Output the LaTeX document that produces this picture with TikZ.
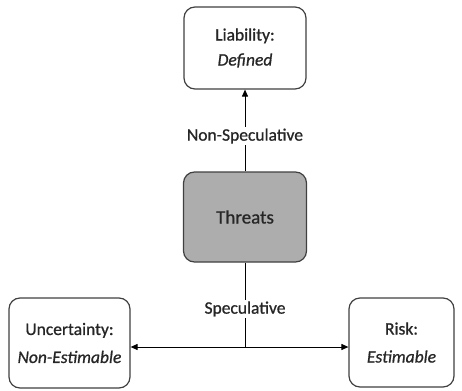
\documentclass[tikz,border=0pt]{standalone}
\usepackage{fontspec}
\setmainfont{Carlito}[FakeBold=0.8,AutoFakeBold=0.8]
\usetikzlibrary{arrows.meta}
\begin{document}
\begin{tikzpicture}[x=1pt,y=-1pt,
  box/.style={draw=black!75, line width=1.2pt, rounded corners=11pt, fill=white, align=center, font=\fontsize{17.5}{25}\selectfont\color{black!85}, inner sep=0pt},
  lbl/.style={fill=white, font=\fontsize{17.5}{18}\selectfont\color{black!85}, inner sep=2pt},
  conn/.style={draw=black, line width=1pt},
  tip/.style={-{Triangle[length=7pt,width=6pt]}}
]
\useasboundingbox (0,0) rectangle (462,390);
\node[box, minimum width=122pt, minimum height=82pt] (liab) at (245,48) {Liability:\\\textit{Defined}};
\node[box, fill=black!32, minimum width=123pt, minimum height=90pt, font=\fontsize{19}{22}\selectfont\color{black!85}] (thr) at (245,217) {Threats};
\node[box, minimum width=121pt, minimum height=90pt, font=\fontsize{17.5}{28}\selectfont\color{black!85}] (unc) at (69.5,343) {Uncertainty:\\\textit{Non-Estimable}};
\node[box, minimum width=105pt, minimum height=89pt, font=\fontsize{17.5}{28}\selectfont\color{black!85}] (risk) at (401.5,342.5) {Risk:\\\textit{Estimable}};
\coordinate (j) at (245,347);
\draw[conn,tip] (thr.north) -- (liab.south);
\node[lbl] (ns) at (245,136) {Non-Speculative};
\draw[conn] (thr.south) -- (j);
\node[lbl] (sp) at (245,309) {Speculative};
\draw[conn,tip] (j) -- (unc.east |- j);
\draw[conn,tip] (j) -- (risk.west |- j);
\end{tikzpicture}
\end{document}
